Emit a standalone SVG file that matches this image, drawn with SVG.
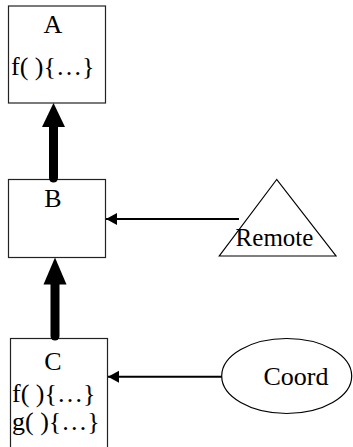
<svg xmlns="http://www.w3.org/2000/svg" width="353" height="447" viewBox="0 0 353 447">
  <style>
    .box { fill: #fff; stroke: #222; stroke-width: 1.2; }
    .shape { fill: #fff; stroke: #000; stroke-width: 1.2; }
    .lbl { font-family: "Liberation Serif", "Times New Roman", serif; font-size: 26px; fill: #000; }
    .title { text-anchor: middle; }
    .mid { text-anchor: middle; }
    .thick { stroke: #000; stroke-width: 9; stroke-linecap: round; fill: none; }
    .thin { stroke: #000; stroke-width: 2; fill: none; }
  </style>
  <defs>
    <marker id="small-head" markerUnits="userSpaceOnUse" markerWidth="12" markerHeight="14" refX="11" refY="7" orient="auto" viewBox="0 0 12 14">
      <path d="M11,7 L0,1 L0,13 Z" fill="#000"/>
    </marker>
  </defs>

  <g id="node-A">
    <rect class="box" x="8.5" y="6" width="97" height="97"/>
    <text class="lbl title" x="53" y="33">A</text>
    <text class="lbl" x="11" y="75">f( ){…}</text>
  </g>

  <g id="node-B">
    <rect class="box" x="8.5" y="179.5" width="97" height="78"/>
    <text class="lbl title" x="53" y="207">B</text>
  </g>

  <g id="node-C">
    <rect class="box" x="10.5" y="338.5" width="97" height="120"/>
    <text class="lbl title" x="53" y="370">C</text>
    <text class="lbl" x="12" y="402">f( ){…}</text>
    <text class="lbl" x="12" y="430">g( ){…}</text>
  </g>

  <g id="node-Remote">
    <polygon class="shape" points="276.7,179.5 219.3,256 336,256"/>
    <text class="lbl mid" x="274.5" y="246" style="font-size:25px">Remote</text>
  </g>

  <g id="node-Coord">
    <ellipse class="shape" cx="286.7" cy="376" rx="65" ry="37.5"/>
    <text class="lbl mid" x="296" y="385">Coord</text>
  </g>

  <g id="connectors">
    <!-- B inherits from A -->
    <line class="thick" x1="53.5" y1="178" x2="53.5" y2="126"/>
    <polygon points="53.5,103 42,127 65,127" fill="#000"/>
    <!-- C inherits from B -->
    <line class="thick" x1="55" y1="336" x2="55" y2="283"/>
    <polygon points="55,257.5 43.5,284.5 66.5,284.5" fill="#000"/>
    <!-- Remote to B -->
    <line class="thin" x1="239" y1="219" x2="106" y2="219" marker-end="url(#small-head)"/>
    <!-- Coord to C -->
    <line class="thin" x1="221.7" y1="376.7" x2="108" y2="376.7" marker-end="url(#small-head)"/>
  </g>
</svg>
